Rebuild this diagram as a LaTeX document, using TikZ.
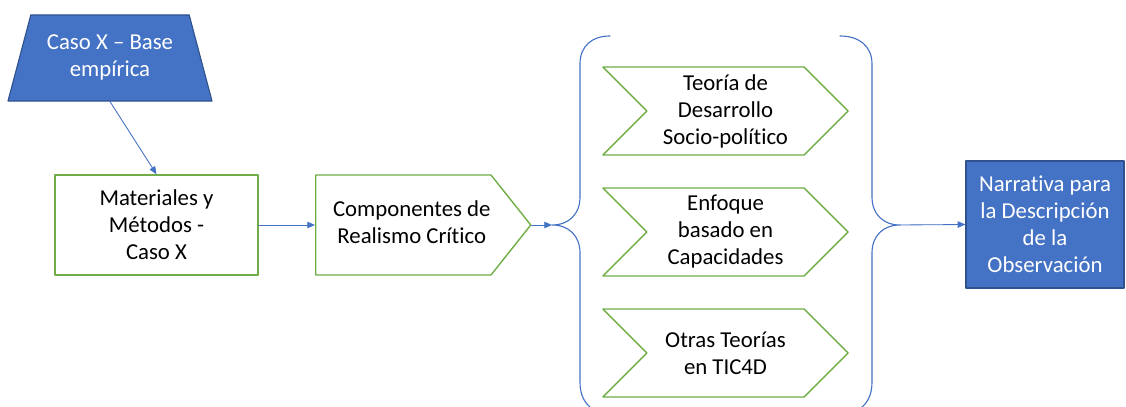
\documentclass[tikz,border=0pt]{standalone}
\usepackage{fontspec}
\setmainfont{Carlito}[Ligatures={NoCommon,NoContextual,NoRare}, Contextuals=NoAlternate]
\usetikzlibrary{shapes.geometric,shapes.symbols,arrows.meta}
\definecolor{azul}{HTML}{4472C4}
\definecolor{azulborde}{HTML}{2F528F}
\definecolor{verde}{HTML}{70AD47}
\begin{document}
\begin{tikzpicture}[x=0.025cm, y=-0.025cm, font=\fontsize{16.2}{19.2}\selectfont, line join=round, line cap=round,
		>={Triangle[length=5.5pt,width=4.6pt]},
		flecha/.style={->, draw=azul, fill=azul, line width=0.6pt},
		llave/.style={draw=azul, line width=0.8pt},
		caja/.style={draw=verde, line width=1pt, align=center, inner sep=0pt},
		tema/.style={caja, signal, signal from=west, signal to=east, signal pointer angle=90, minimum width=6.125cm, minimum height=2.2cm},
		azulbox/.style={fill=azul, draw=azulborde, line width=0.8pt, text=white, align=center, inner sep=0pt}]
		\useasboundingbox (0,0) rectangle (1126,407);
		% entrada y metodos
		\node[azulbox, trapezium, trapezium left angle=71.4, trapezium right angle=71.4, trapezium stretches=true, minimum width=5.1cm, minimum height=2.15cm] (casox) at (110,58) {\raisebox{-3pt}{\begin{tabular}{@{}c@{}}Caso X -- Base\\empírica\end{tabular}}};
		\node[caja, rectangle, minimum width=5.075cm, minimum height=2.5cm] (mat) at (156.5,225) {Materiales y\\Métodos -\\Caso X};
		\node[caja, signal, signal to=east, signal pointer angle=103, minimum width=5.375cm, minimum height=2.5cm, anchor=west] (comp) at (315,225) {\hspace*{12pt}\begin{tabular}{@{}c@{}}Componentes de\\Realismo Crítico\end{tabular}};
		% teorias
		\node[tema] (teo1) at (725.5,111) {Teoría de\\Desarrollo\\Socio-político};
		\node[tema] (teo2) at (725.5,232) {Enfoque\\basado en\\Capacidades};
		\node[tema] (teo3) at (725.5,353) {Otras Teorías\\en TIC4D};
		\node[azulbox, rectangle, minimum width=3.95cm, minimum height=3.175cm] (narr) at (1045,224.5) {Narrativa para\\la Descripción\\de la\\Observación};
		% llaves
		\coordinate (llaveA) at (552,225);
		\coordinate (llaveB) at (900,225);
		\draw[llave] (610,36) .. controls (592,36) and (580,46) .. (580,64) -- (580,197) .. controls (580,214) and (569,225) .. (llaveA)
			.. controls (569,225) and (580,236) .. (580,253) -- (580,382) .. controls (580,394) and (584,402) .. (590,407);
		\draw[llave] (840,36) .. controls (859,36) and (872,46) .. (872,64) -- (872,197) .. controls (872,214) and (883,225) .. (llaveB)
			.. controls (883,225) and (872,236) .. (872,253) -- (872,382) .. controls (872,394) and (868,402) .. (862,407);
		% conexiones
		\draw[flecha] (casox.south) -- (mat.north);
		\draw[flecha] (mat.east) -- (comp.west);
		\draw[flecha] (comp.east) -- (llaveA);
		\draw[flecha] (llaveB) -- (narr.west);
	\end{tikzpicture}
\end{document}
